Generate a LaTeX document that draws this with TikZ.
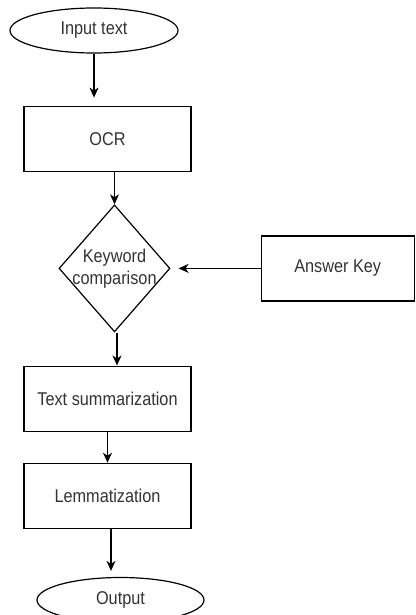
\documentclass[tikz,border=0pt]{standalone}
\usepackage{fontspec}
\setmainfont{Liberation Sans}[FakeStretch=0.88]
\usepackage{xcolor}
\usetikzlibrary{shapes.geometric,arrows.meta,positioning}

\begin{document}
\begin{tikzpicture}[
    x=1pt, y=-1pt,
    font=\fontsize{18.5}{22}\selectfont,
    terminal/.style={ellipse, draw, line width=1.2pt, minimum width=168pt, minimum height=45pt, inner sep=0pt, text=black!80},
    process/.style={rectangle, draw, line width=1.2pt, minimum width=167pt, minimum height=65pt, inner sep=0pt, align=center, text=black!80},
    decision/.style={diamond, draw, line width=1.2pt, minimum width=111pt, minimum height=127pt, inner sep=0pt},
    arrow/.style={-{Stealth[length=10pt, width=9pt, inset=3pt]}, line width=1.2pt}
]
\useasboundingbox (0,0) rectangle (415,615);
\node[terminal] (input) at (94,30.5) {Input text};
\node[process, below=52pt of input, xshift=13.5pt] (ocr) {OCR};
\node[decision, below=32.5pt of ocr, xshift=7pt, label={[align=center, text=black!80]center:Keyword\\comparison}] (kw) {};
\node[process, right=90pt of kw, minimum width=153pt] (key) {Answer Key};
\node[process, below=33pt of kw, xshift=-7pt] (summ) {Text summarization};
\node[process, below=31pt of summ] (lemma) {Lemmatization};
\node[terminal, below=48pt of lemma, xshift=13pt, minimum width=167pt] (output) {Output};
\draw[arrow, shorten >=8pt] (input.south) -- (input.south |- ocr.north);
\draw[arrow] (kw.north |- ocr.south) -- (kw.north);
\draw[arrow, shorten >=8pt] (key.west) -- (kw.east);
\draw[arrow] ([xshift=2.5pt]kw.south) -- ([xshift=2.5pt]kw.south |- summ.north);
\draw[arrow] (summ) -- (lemma);
\draw[arrow, shorten >=6pt] ([xshift=3.5pt]lemma.south) -- ([xshift=3.5pt]lemma.south |- output.north);
\end{tikzpicture}
\end{document}
